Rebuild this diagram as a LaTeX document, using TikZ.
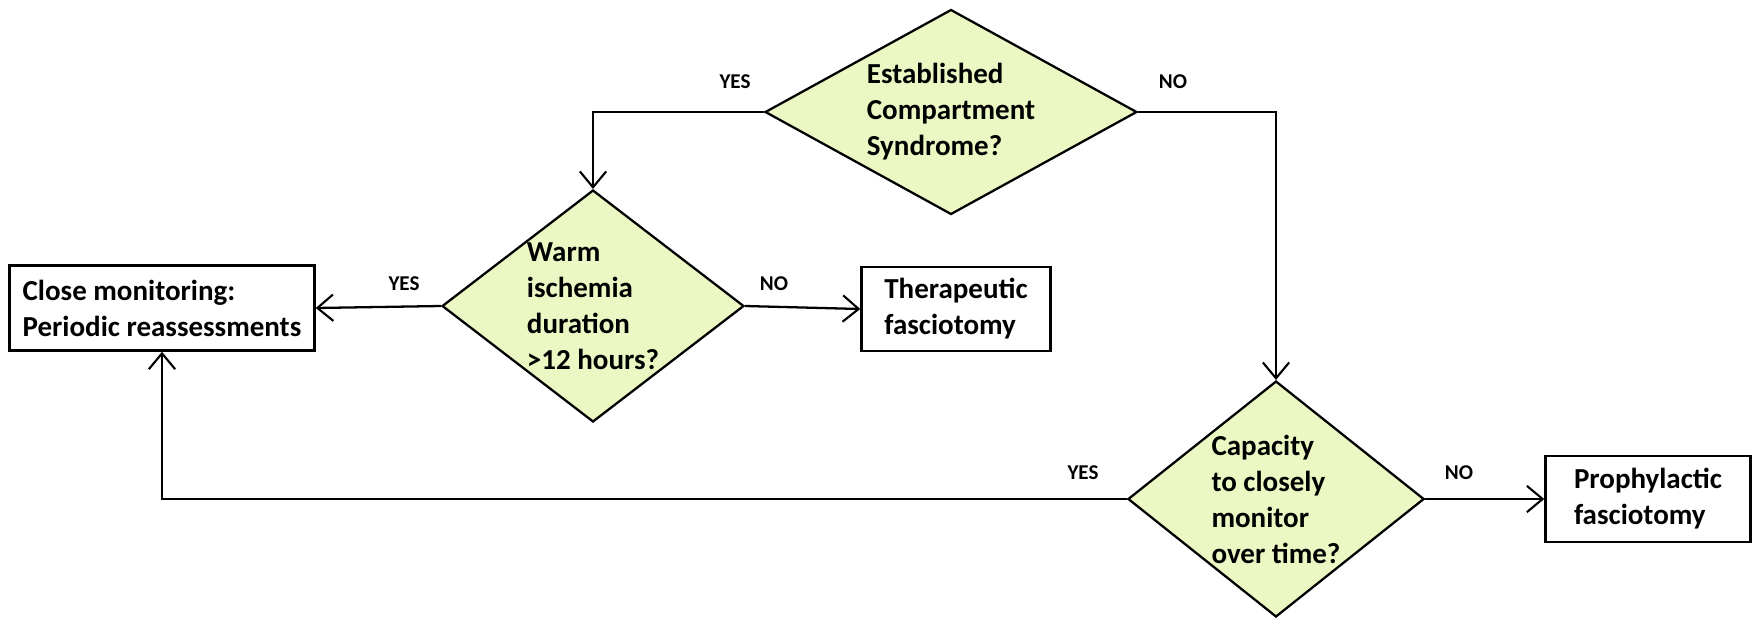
\documentclass[tikz,border=0pt]{standalone}
\usepackage{fontspec}
\setmainfont{Carlito}
\usetikzlibrary{shapes.geometric,arrows.meta}
\definecolor{decfill}{RGB}{236,248,196}
\tikzset{
  decision/.style={diamond, draw, fill=decfill, line width=1.3pt, inner sep=0pt,
    align=left, font=\bfseries\fontsize{16.5}{20.5}\selectfont},
  outcome/.style={rectangle, draw, line width=1.4pt, inner sep=0pt, align=left,
    font=\bfseries\fontsize{16.5}{20.5}\selectfont},
  answer/.style={font=\bfseries\fontsize{12}{14}\selectfont},
  flow/.style={line width=1.3pt, -{Straight Barb[length=9pt,width=15pt,line width=1.2pt]}}
}
\begin{document}
\begin{tikzpicture}[x=0.02cm,y=-0.02cm]
            \useasboundingbox (0,0) rectangle (1760,620);
            \node[decision, aspect=1.8, minimum width=7.44cm, minimum height=4.1cm] (est) at (951,112) {Established\\Compartment\\Syndrome?};
            \node[decision, aspect=1.3, minimum width=6.04cm, minimum height=4.64cm] (warm) at (593,306) {Warm\\ischemia\\duration\\>12 hours?};
            \node[decision, aspect=1.3, minimum width=5.92cm, minimum height=4.72cm] (cap) at (1276,499) {Capacity\\to closely\\monitor\\over time?};
            \node[outcome, minimum width=6.1cm, minimum height=1.7cm] (close) at (162,308) {Close monitoring:\\Periodic reassessments};
            \node[outcome, minimum width=3.78cm, minimum height=1.68cm] (thera) at (956,309) {Therapeutic\\fasciotomy};
            \node[outcome, minimum width=4.1cm, minimum height=1.72cm] (proph) at (1648,499) {Prophylactic\\fasciotomy};

            \node[answer] (estyes) at (735,82) {YES};
            \node[answer] (estno) at (1173,82) {NO};
            \node[answer] (warmyes) at (404,284) {YES};
            \node[answer] (warmno) at (774,284) {NO};
            \node[answer] (capyes) at (1083,473) {YES};
            \node[answer] (capno) at (1459,473) {NO};

            \draw[flow] (est.west) -| (warm.north); \draw[flow] (est.east) -| (cap.north);
            \draw[flow] (warm.west) to (close.east); \draw[flow] (warm.east) to (thera.west);
            \draw[flow] (cap.west) -| (close.south); \draw[flow] (cap.east) to (proph.west);
        \end{tikzpicture}
\end{document}
